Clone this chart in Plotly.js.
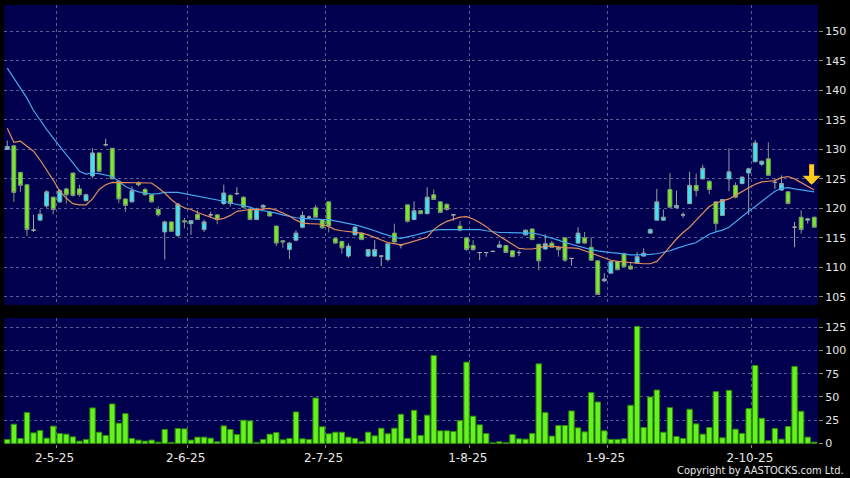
<!DOCTYPE html>
<html>
<head>
<meta charset="utf-8">
<script src="https://cdn.plot.ly/plotly-3.0.1.min.js"></script>
<style>
html,body{margin:0;padding:0;background:#000;}
#chart{width:850px;height:478px;}
</style>
</head>
<body>
<div id="chart"></div>
<script>
// ---- data (one entry per trading day) ----
const open = [130.0,130.6,126.1,124.0,116.3,118.0,120.4,121.9,121.1,123.3,
  126.0,123.3,121.3,125.5,129.4,130.8,130.2,124.6,121.6,121.1,
  124.3,123.2,122.3,119.8,116.0,117.7,115.4,117.9,117.4,119.0,
  116.4,118.9,118.9,120.8,122.2,122.5,121.9,119.9,118.1,120.2,
  119.4,117.0,114.5,113.0,114.6,116.8,118.5,120.1,118.1,121.1,
  114.9,114.4,111.9,115.5,115.8,111.9,111.9,111.9,111.3,115.8,
  113.8,120.6,118.1,119.6,119.1,122.3,121.1,120.7,118.9,117.0,
  115.0,113.7,112.5,112.5,112.7,113.4,113.7,112.8,112.5,115.5,
  116.5,113.9,113.1,114.1,113.4,115.0,111.5,114.1,115.0,113.4,
  111.1,107.7,109.0,111.0,112.3,110.2,110.7,111.9,115.8,118.0,
  118.0,123.2,120.1,118.9,120.8,123.9,125.0,124.6,121.1,118.8,
  125.0,123.9,124.2,126.0,127.9,127.5,128.4,124.4,123.1,122.8,
  116.8,118.5,118.0,118.5];
const high = [131.5,130.8,126.2,124.0,118.9,119.8,123.1,122.0,123.3,123.5,
  126.0,124.0,122.5,130.2,129.5,131.8,130.2,124.8,121.7,123.7,
  124.6,123.5,122.4,120.3,117.9,117.8,120.9,118.4,118.0,119.7,
  118.1,119.4,119.0,124.0,122.4,123.6,122.0,120.0,120.1,120.7,
  119.6,117.0,114.6,114.3,116.3,119.5,118.8,120.6,118.2,121.1,
  115.0,114.5,114.1,117.0,115.9,113.1,114.6,112.0,114.0,117.4,
  113.9,120.6,121.2,119.7,123.6,123.2,121.2,120.8,118.9,117.9,
  115.0,114.6,112.6,112.6,112.8,114.5,113.8,112.9,112.9,116.4,
  116.6,114.0,115.6,114.5,113.6,115.1,111.6,116.8,116.0,115.1,
  111.1,109.0,111.1,111.1,112.5,110.9,112.6,113.2,116.6,123.3,
  119.8,126.0,123.0,119.3,126.2,125.9,127.4,124.7,121.2,121.6,
  130.2,124.4,125.4,126.9,131.6,128.1,131.2,125.1,125.6,122.9,
  117.7,119.7,118.4,118.6];
const low = [130.0,121.1,122.8,115.3,116.0,118.0,120.1,119.0,120.9,120.8,
  122.0,122.0,121.2,125.1,126.2,130.5,125.0,120.9,119.4,121.0,
  123.7,122.2,121.0,118.6,111.3,116.0,115.1,116.6,115.5,118.0,
  116.0,118.4,117.3,120.6,120.3,122.3,120.0,118.0,118.0,119.7,
  118.6,113.6,113.3,111.4,114.4,116.6,118.2,118.4,116.5,115.9,
  114.0,112.3,111.6,115.4,114.6,111.8,111.8,110.2,111.0,114.2,
  113.2,117.6,118.0,119.0,119.0,121.4,119.2,119.6,117.9,116.1,
  112.8,112.8,111.2,111.8,112.6,113.3,112.4,111.7,111.9,115.4,
  114.6,109.5,113.0,113.3,111.8,110.9,110.3,114.0,114.0,111.1,
  105.4,107.5,109.0,109.5,110.0,109.6,110.6,111.8,115.7,117.9,
  117.9,120.1,120.0,118.4,120.7,122.0,124.9,122.4,116.0,118.7,
  122.9,121.7,124.1,118.9,127.8,127.2,125.5,123.3,123.0,120.7,
  113.4,115.7,117.4,116.8];
const close = [130.5,122.7,123.9,116.4,116.3,119.0,122.8,119.8,123.0,122.3,
  122.2,122.3,122.3,129.4,126.3,130.8,125.0,121.6,120.5,123.0,
  124.0,122.3,121.1,118.9,117.7,116.1,120.7,117.7,117.9,118.1,
  117.7,118.9,118.1,122.6,120.8,122.5,120.2,118.1,119.9,120.5,
  118.7,114.1,114.3,114.1,115.8,118.8,118.5,118.5,116.7,117.0,
  114.1,113.3,113.6,116.8,114.7,113.0,113.0,111.9,114.0,114.3,
  113.8,117.8,119.6,119.1,121.9,121.5,119.3,119.8,118.9,116.3,
  113.0,113.0,112.5,112.5,112.7,113.8,112.5,111.8,112.5,116.3,
  114.7,111.1,114.0,113.4,113.0,111.2,111.5,115.8,114.1,111.2,
  105.4,108.0,111.0,109.6,110.1,109.7,111.8,112.4,116.4,121.1,
  118.5,120.2,120.5,118.9,123.9,123.0,126.8,123.2,117.4,121.5,
  126.2,121.9,125.3,126.7,131.1,128.0,125.6,124.4,124.2,120.8,
  116.8,116.4,118.2,116.8];
const volume = [4.3,20.7,5.4,33.2,11.4,13.9,5.7,18.6,10.7,10.0,
  7.1,2.5,4.3,38.2,12.1,8.6,42.5,21.8,32.1,5.4,
  3.6,2.5,3.6,1.4,15.0,1.1,16.1,15.7,3.6,6.8,
  6.8,5.7,1.8,18.9,15.0,9.6,25.0,24.3,1.1,4.3,
  10.0,11.8,3.9,5.4,33.9,5.0,4.3,48.9,17.9,10.4,
  12.1,12.1,6.8,5.4,1.8,12.1,8.2,16.4,10.4,16.4,
  31.4,5.4,35.7,8.6,30.4,94.6,13.6,13.6,12.9,24.6,
  87.5,29.3,20.0,10.7,0.7,1.8,1.0,9.6,5.0,4.6,
  10.7,85.7,33.2,7.9,19.3,19.3,35.0,16.8,12.5,54.6,
  44.6,13.6,4.3,4.3,5.0,41.1,126.0,17.1,50.0,57.5,
  12.1,38.6,7.5,5.4,36.8,21.1,10.0,17.1,55.7,6.1,
  57.1,15.4,10.7,37.5,83.9,27.1,2.9,16.1,4.6,18.2,
  82.9,34.6,6.8,1.4];
const maShort = [133.6,131.2,131.4,130.6,129.7,128.2,126.6,124.8,122.9,121.7,
  120.8,120.6,120.6,121.6,123.2,124.0,124.4,124.4,124.4,124.4,
  124.3,124.4,124.3,123.5,122.6,121.5,120.6,120.1,119.8,119.3,
  118.9,118.4,118.1,118.3,118.8,119.5,119.7,119.8,119.8,119.9,
  120.0,119.7,119.2,118.7,118.0,117.5,117.4,117.4,117.3,116.9,
  116.4,116.2,116.1,116.0,115.8,115.5,115.1,114.6,114.2,114.0,
  113.8,114.1,114.4,114.7,115.1,116.4,117.2,117.8,118.2,118.5,
  118.6,118.2,117.6,116.9,116.0,115.3,114.7,114.0,113.2,113.1,
  113.1,113.3,113.6,113.6,113.4,113.3,113.3,113.2,112.8,112.4,
  111.9,111.6,111.2,111.0,110.9,110.7,110.6,110.6,110.6,111.0,
  112.2,113.6,114.8,115.9,116.8,118.0,119.2,120.3,120.9,121.3,
  121.6,122.2,122.9,123.5,124.1,124.5,124.6,124.7,125.2,125.4,
  125.0,124.4,123.7,123.1];
const maLong = [143.8,142.1,140.5,138.7,136.6,134.9,133.4,131.9,130.4,129.1,
  127.7,126.3,125.8,126.0,125.9,125.7,125.4,124.6,123.7,123.2,
  122.8,122.6,122.4,122.5,122.7,122.7,122.7,122.5,122.3,122.0,
  121.8,121.6,121.5,121.2,120.9,120.7,120.5,120.2,119.8,119.6,
  119.5,119.2,118.9,118.6,118.4,118.3,118.2,118.2,118.1,118.1,
  117.9,117.6,117.4,117.2,116.9,116.6,116.2,115.8,115.4,115.1,
  114.9,115.1,115.4,115.7,116.0,116.3,116.4,116.4,116.4,116.4,
  116.4,116.4,116.4,116.2,116.0,115.9,115.9,115.9,115.9,115.9,
  115.8,115.6,115.3,114.9,114.6,114.2,113.9,113.5,113.2,113.0,
  112.8,112.6,112.5,112.4,112.2,112.1,112.1,112.1,112.2,112.3,
  112.5,112.8,113.2,113.6,113.9,114.2,114.9,115.6,116.0,116.3,
  116.8,117.7,118.7,119.5,120.3,121.2,122.1,122.9,123.4,123.5,
  123.3,123.1,122.9,122.8];
// month boundaries (day positions) and their labels
const monthPos = [7.5, 27.5, 48.5, 70.5, 91.5, 113.5];
const monthLabels = ['2-5-25','2-6-25','2-7-25','1-8-25','1-9-25','2-10-25'];
const priceTicks = [105,110,115,120,125,130,135,140,145,150];
const volTicks = [0,25,50,75,100,125];

// ---- build traces ----
const day = close.map((_, i) => i);
function pick(filter) {
  const r = {x: [], open: [], high: [], low: [], close: []};
  day.forEach(i => {
    if (filter(i)) {
      r.x.push(i); r.open.push(open[i]); r.high.push(high[i]);
      r.low.push(low[i]); r.close.push(close[i]);
    }
  });
  return r;
}
function candle(sel, fill, line) {
  const style = {line: {color: line, width: 1}, fillcolor: fill};
  return Object.assign({
    type: 'candlestick', xaxis: 'x2', yaxis: 'y',
    increasing: style, decreasing: style,
    whiskerwidth: 0, hoverinfo: 'skip', showlegend: false
  }, sel);
}
const up = pick(i => close[i] > open[i]);
const down = pick(i => close[i] < open[i]);
const flat = pick(i => close[i] === open[i]);

const traces = [
  {type: 'bar', x: day, y: volume, xaxis: 'x', yaxis: 'y2', width: 0.82,
   marker: {color: '#66f21c', line: {color: '#2f8a0c', width: 1}},
   hoverinfo: 'skip', showlegend: false},
  {type: 'scatter', mode: 'lines', x: day, y: maLong, xaxis: 'x2', yaxis: 'y',
   line: {color: '#45a6ee', width: 1.2}, hoverinfo: 'skip', showlegend: false},
  {type: 'scatter', mode: 'lines', x: day, y: maShort, xaxis: 'x2', yaxis: 'y',
   line: {color: '#e08d5c', width: 1.2}, hoverinfo: 'skip', showlegend: false},
  candle(up, '#3ae6f2', '#8fa3a6'),
  candle(down, '#74ee1e', '#7f9a78'),
  candle(flat, '#a8a8a8', '#a8a8a8')
];

const gridColor = '#5a5a94';
const tickFont = {family: 'DejaVu Sans', size: 11, color: '#e6e6e6'};
const xRange = [-0.5, 123.57];
const layout = {
  width: 850, height: 478,
  paper_bgcolor: '#000000', plot_bgcolor: '#00004e',
  margin: {l: 4, r: 32, t: 5, b: 34},
  boxgap: 0.15,
  hovermode: false,
  showlegend: false,
  xaxis: {
    domain: [0, 1], anchor: 'y2', range: xRange,
    tickmode: 'array', tickvals: monthPos, ticktext: monthLabels,
    showgrid: true, gridcolor: gridColor, griddash: '3px,3px', gridwidth: 1,
    ticks: 'outside', ticklen: 3, tickcolor: '#8a8a8a',
    tickfont: {family: 'DejaVu Sans', size: 12, color: '#e8e8e8'},
    ticklabelshift: -2,
    zeroline: false, showline: false,
    rangeslider: {visible: false}
  },
  xaxis2: {
    domain: [0, 1], anchor: 'y', matches: 'x', range: xRange,
    tickmode: 'array', tickvals: monthPos, showticklabels: false,
    showgrid: true, gridcolor: gridColor, griddash: '3px,3px', gridwidth: 1,
    ticks: '', zeroline: false, showline: false,
    rangeslider: {visible: false}
  },
  yaxis: {
    domain: [0.3166, 1], anchor: 'x2', side: 'right', range: [103.6, 154.5],
    tickmode: 'array', tickvals: priceTicks,
    showgrid: true, gridcolor: gridColor, griddash: '3px,3px', gridwidth: 1,
    ticks: 'outside', ticklen: 4, tickcolor: '#8a8a8a',
    tickfont: tickFont, zeroline: false, showline: false
  },
  yaxis2: {
    domain: [0, 0.287], anchor: 'x', side: 'right', range: [-0.6, 135],
    tickmode: 'array', tickvals: volTicks,
    showgrid: true, gridcolor: gridColor, griddash: '3px,3px', gridwidth: 1,
    ticks: 'outside', ticklen: 4, tickcolor: '#8a8a8a',
    tickfont: tickFont, zeroline: false, showline: false
  },
  annotations: [
    {text: 'Copyright by AASTOCKS.com Ltd.', xref: 'paper', yref: 'paper',
     x: 1.034, y: -0.0615, xanchor: 'right', yanchor: 'middle', showarrow: false,
     font: {family: 'DejaVu Sans Condensed, DejaVu Sans', size: 11, color: '#e6e6e6'}},
    {xref: 'x2', yref: 'y', x: day[day.length - 1] - 0.4, y: maLong[maLong.length - 1] + 1.2,
     ax: 0, ay: -22, showarrow: true, arrowhead: 1, arrowsize: 0.6, arrowwidth: 5,
     arrowcolor: '#ffcc1a', text: ''}
  ]
};

Plotly.newPlot('chart', traces, layout, {staticPlot: true, displayModeBar: false});
</script>
</body>
</html>
